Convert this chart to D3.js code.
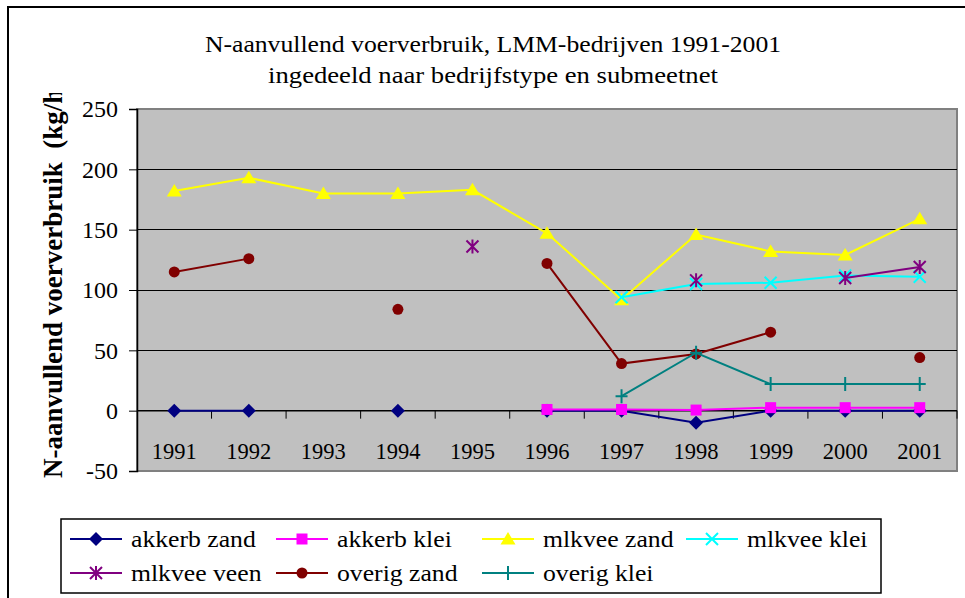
<!DOCTYPE html>
<html><head><meta charset="utf-8">
<script src="https://cdn.jsdelivr.net/npm/d3@7"></script>
<style>
body{margin:0;background:#fff}
svg{display:block}
</style>
</head><body>
<svg id="chart" width="965" height="598"></svg>
<script>
// ---- data ----
const years = ["1991","1992","1993","1994","1995","1996","1997","1998","1999","2000","2001"];
const akkerbZand = [0, 0, null, 0, null, 0, 0, -10, 0, 0, 0];
const akkerbKlei = [null, null, null, null, null, 1, 1, 0.5, 2.5, 2.5, 2.5];
const mlkveeZand = [182, 193, 180, 180, 183, 147, 92, 146, 132, 129, 159];
const mlkveeKlei = [null, null, null, null, null, null, 94, 105, 106, 112, 111];
const mlkveeVeen = [null, null, null, null, 136, null, null, 108, null, 110, 119];
const overigZand = [115, 126, null, 84, null, 122, 39, 47, 65, null, 44];
const overigKlei = [null, null, null, null, null, null, 12, 48, 22, 22, 22];
const seriesNames = ["akkerb zand","akkerb klei","mlkvee zand","mlkvee klei","mlkvee veen","overig zand","overig klei"];
const yTicks = [-50, 0, 50, 100, 150, 200, 250];
const titleLines = ["N-aanvullend voerverbruik, LMM-bedrijven 1991-2001","ingedeeld naar bedrijfstype en submeetnet"];
const yTitle = "N-aanvullend voerverbruik  (kg/ha)";

const seriesValues = [akkerbZand, akkerbKlei, mlkveeZand, mlkveeKlei, mlkveeVeen, overigZand, overigKlei];
const colors = ["#000080","#FF00FF","#FFFF00","#00FFFF","#800080","#800000","#008080"];
const markers = ["diamond","square","triangle","x","asterisk","circle","plus"];

const FONT = "'Liberation Serif', 'Times New Roman', Times, serif";
const svg = d3.select("#chart");
const P = {left:137, right:957, top:109, bottom:471};

const x = d3.scaleBand().domain(years).range([P.left, P.right]).padding(0);
const y = d3.scaleLinear().domain([-50, 250]).range([P.bottom, P.top]);
const cx = d => x(d) + x.bandwidth()/2;

function stretch(sel, f){
  sel.each(function(d,i){
    const k = typeof f === "function" ? f(d,i) : f;
    const w = this.getComputedTextLength();
    this.setAttribute("textLength", (w*k).toFixed(1));
    this.setAttribute("lengthAdjust", "spacingAndGlyphs");
  });
}

// outer border
svg.append("rect").attr("x",8).attr("y",7).attr("width",970).attr("height",600)
  .attr("fill","none").attr("stroke","#000").attr("stroke-width",2);

// title
const tt = svg.append("g");
tt.selectAll("text").data(titleLines).join("text")
  .attr("x", 493).attr("y", (d,i)=> 52 + i*31)
  .attr("text-anchor","middle").style("font-family",FONT).style("font-size","24px").attr("fill","#000").text(d=>d)
  .call(stretch, (d,i)=> i===0 ? 1.07 : 1.11);

// plot background
svg.append("rect").attr("x",P.left).attr("y",P.top).attr("width",P.right-P.left).attr("height",P.bottom-P.top)
  .attr("fill","#C0C0C0").attr("stroke","#808080").attr("stroke-width",2);

// gridlines
svg.append("g").selectAll("line").data(yTicks.filter(t=>t!==-50 && t!==250)).join("line")
  .attr("x1",P.left).attr("x2",P.right).attr("y1",d=>y(d)).attr("y2",d=>y(d))
  .attr("stroke","#000").attr("stroke-width",1).attr("shape-rendering","crispEdges");

// y axis
const yAxis = d3.axisLeft(y).tickValues(yTicks).tickSize(8).tickPadding(11).tickFormat(d=>String(d));
const ya = svg.append("g").attr("transform",`translate(${P.left},0)`).call(yAxis);
ya.attr("font-family",null).attr("font-size",null);
ya.select(".domain").attr("stroke","#000").attr("stroke-width",1.5);
ya.selectAll(".tick line").attr("stroke","#000");
ya.selectAll(".tick text").style("font-family",FONT).style("font-size","24px").attr("fill","#000");

// x axis at y=0 with ticks between categories
const xa = svg.append("g").attr("transform",`translate(0,${y(0)})`);
xa.append("line").attr("x1",P.left).attr("x2",P.right).attr("stroke","#000").attr("stroke-width",1.5);
const bounds = years.map(d=>x(d)).concat([P.right]).slice(1);
xa.selectAll("line.tk").data(bounds).join("line").attr("class","tk")
  .attr("x1",d=>d).attr("x2",d=>d).attr("y1",0).attr("y2",8).attr("stroke","#000");
xa.selectAll("text").data(years).join("text")
  .attr("x",d=>cx(d)).attr("y",48).attr("text-anchor","middle")
  .style("font-family",FONT).style("font-size","22.5px").attr("fill","#000").text(d=>d);

// y title (clipped at top)
svg.append("clipPath").attr("id","yclip").append("rect").attr("x",0).attr("y",93).attr("width",130).attr("height",505);
svg.append("g").attr("clip-path","url(#yclip)")
  .append("text").attr("transform","translate(62,478) rotate(-90)")
  .style("font-family",FONT).style("font-size","27px").style("font-weight","bold").style("white-space","pre")
  .attr("fill","#000").text(yTitle);

// marker paths
function markerPath(type){
  const p = d3.path();
  switch(type){
    case "diamond": p.moveTo(0,-7);p.lineTo(7,0);p.lineTo(0,7);p.lineTo(-7,0);p.closePath();break;
    case "square": p.rect(-5.5,-5.5,11,11);break;
    case "triangle": p.moveTo(0,-7);p.lineTo(7.5,5.5);p.lineTo(-7.5,5.5);p.closePath();break;
    case "circle": p.arc(0,0,5.5,0,2*Math.PI);break;
    case "x": p.moveTo(-6,-6);p.lineTo(6,6);p.moveTo(-6,6);p.lineTo(6,-6);break;
    case "asterisk": p.moveTo(-6,-6);p.lineTo(6,6);p.moveTo(-6,6);p.lineTo(6,-6);p.moveTo(0,-7);p.lineTo(0,7);break;
    case "plus": p.moveTo(-6,0);p.lineTo(6,0);p.moveTo(0,-7);p.lineTo(0,7);break;
  }
  return p.toString();
}
const filled = t => ["diamond","square","triangle","circle"].includes(t);

const line = d3.line().defined(d=>d.v!=null).x(d=>cx(d.year)).y(d=>y(d.v));
const plotG = svg.append("g");
seriesValues.forEach((vals,i)=>{
  const pts = years.map((yr,j)=>({year:yr, v:vals[j]}));
  const g = plotG.append("g");
  g.append("path").attr("d", line(pts)).attr("fill","none").attr("stroke",colors[i]).attr("stroke-width",2);
  g.selectAll("path.m").data(pts.filter(d=>d.v!=null)).join("path").attr("class","m")
    .attr("transform",d=>`translate(${cx(d.year)},${y(d.v)})`)
    .attr("d", markerPath(markers[i]))
    .attr("fill", filled(markers[i]) ? colors[i] : "none")
    .attr("stroke", colors[i]).attr("stroke-width", filled(markers[i]) ? 0 : 2);
});

// legend
const L = {x:61, y:519, w:820, h:74};
svg.append("rect").attr("x",L.x).attr("y",L.y).attr("width",L.w).attr("height",L.h)
  .attr("fill","#fff").attr("stroke","#000").attr("stroke-width",1.5);
const colX = [70, 276, 482, 686];
const rowY = [539, 573];
const lg = svg.append("g").selectAll("g").data(seriesNames).join("g")
  .attr("transform",(d,i)=>`translate(${colX[i%4]},${rowY[Math.floor(i/4)]})`);
lg.append("line").attr("x1",0).attr("x2",52).attr("stroke",(d,i)=>colors[i]).attr("stroke-width",2);
lg.append("path").attr("transform","translate(26,0)").attr("d",(d,i)=>markerPath(markers[i]))
  .attr("fill",(d,i)=>filled(markers[i])?colors[i]:"none")
  .attr("stroke",(d,i)=>colors[i]).attr("stroke-width",(d,i)=>filled(markers[i])?0:2);
lg.append("text").attr("x",61).attr("y",8)
  .style("font-family",FONT).style("font-size","24px").attr("fill","#000").text(d=>d)
  .call(stretch, 1.07);
</script>
</body></html>
